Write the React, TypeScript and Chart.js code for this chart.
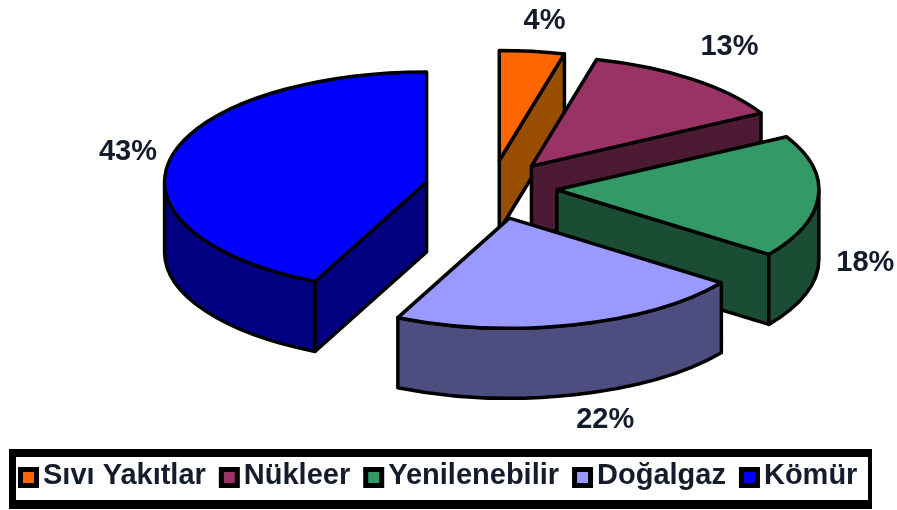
import React, { useEffect, useRef } from "react";
import { Chart, registerables } from "chart.js";

Chart.register(...registerables);

// Energy sources and their shares in percent
const sources = ["Sıvı Yakıtlar", "Nükleer", "Yenilenebilir", "Doğalgaz", "Kömür"];
const shares = [4, 13, 18, 22, 43];
const topColors = ["#FF6600", "#993366", "#339966", "#9999FF", "#0000FF"];
const wallColors = ["#994D00", "#4D1A33", "#1A4D33", "#4D4D80", "#000080"];

// Pie geometry: tilt of the disc, thickness of the disc, how far each slice is pulled out
const RADIUS = 262;
const SQUASH = 0.42;
const DEPTH = 70;
const pull = [66, 66, 66, 74, 66];

const INK = "#141c2c";
const labelFont = "bold 29px 'Liberation Sans', Arial, sans-serif";
const labelGap = 14;
const labelShift = [
  [8, -7],
  [11, -13],
  [4, -5],
  [20, 2],
  [-1, -1],
];

const slicePlacement = (arc: any, i: number) => {
  const mid = (arc.startAngle + arc.endAngle) / 2;
  return {
    mid,
    x: arc.x + Math.cos(mid) * pull[i],
    y: arc.y + Math.sin(mid) * pull[i] * SQUASH,
    rx: arc.outerRadius,
    ry: arc.outerRadius * SQUASH,
  };
};

const drawSlice = (ctx: CanvasRenderingContext2D, arc: any, i: number) => {
  const { x, y, rx, ry } = slicePlacement(arc, i);
  const a = arc.startAngle;
  const b = arc.endAngle;
  ctx.lineWidth = 3.5;
  ctx.lineJoin = "round";
  ctx.strokeStyle = "#000";
  ctx.fillStyle = wallColors[i];

  // Flat cut faces that turn towards the viewer
  const radialWall = (t: number) => {
    const px = x + rx * Math.cos(t);
    const py = y + ry * Math.sin(t);
    ctx.beginPath();
    ctx.moveTo(x, y);
    ctx.lineTo(px, py);
    ctx.lineTo(px, py + DEPTH);
    ctx.lineTo(x, y + DEPTH);
    ctx.closePath();
    ctx.fill();
    ctx.stroke();
  };
  if (Math.cos(a) < -1e-6) radialWall(a);
  if (Math.cos(b) > 1e-6) radialWall(b);

  // Curved rim, only on the near half of the disc
  const lo = Math.max(a, 0);
  const hi = Math.min(b, Math.PI);
  if (lo < hi) {
    ctx.beginPath();
    ctx.ellipse(x, y, rx, ry, 0, lo, hi);
    ctx.ellipse(x, y + DEPTH, rx, ry, 0, hi, lo, true);
    ctx.closePath();
    ctx.fill();
    ctx.stroke();
  }

  // Top face: the library's arc element under a squashing transform
  ctx.save();
  ctx.translate(x, y);
  ctx.scale(1, SQUASH);
  ctx.translate(-arc.x, -arc.y);
  arc.draw(ctx);
  ctx.restore();

  ctx.beginPath();
  ctx.moveTo(x, y);
  ctx.ellipse(x, y, rx, ry, 0, a, b);
  ctx.closePath();
  ctx.stroke();
};

const tiltedPie = {
  id: "tiltedPie",
  beforeDatasetsDraw(chart: any) {
    const ctx: CanvasRenderingContext2D = chart.ctx;
    const arcs: any[] = chart.getDatasetMeta(0).data;
    const order = arcs
      .map((arc, i) => ({ arc, i, depth: slicePlacement(arc, i).y }))
      .sort((p, q) => p.depth - q.depth);
    ctx.save();
    order.forEach(({ arc, i }) => drawSlice(ctx, arc, i));
    ctx.restore();
    return false;
  },
  afterDraw(chart: any) {
    const ctx: CanvasRenderingContext2D = chart.ctx;
    const arcs: any[] = chart.getDatasetMeta(0).data;
    ctx.save();
    ctx.font = labelFont;
    ctx.fillStyle = INK;
    ctx.textAlign = "center";
    ctx.textBaseline = "middle";

    // Percent labels just outside each slice's rim
    arcs.forEach((arc, i) => {
      const { mid, x, y, rx, ry } = slicePlacement(arc, i);
      const text = `${shares[i]}%`;
      const w = ctx.measureText(text).width;
      const cx = Math.cos(mid);
      const sy = Math.sin(mid);
      const rimY = y + ry * sy + (sy > 0 ? DEPTH : 0);
      const lx = x + rx * cx + cx * (w / 2 + labelGap) + labelShift[i][0];
      const ly = rimY + sy * (10 + labelGap) + labelShift[i][1];
      ctx.fillText(text, lx, ly);
    });

    // Framed legend along the bottom edge
    ctx.fillStyle = "#000";
    ctx.fillRect(9, 449, 863, 60);
    ctx.fillStyle = "#fff";
    ctx.fillRect(16, 457, 852, 43);

    let cursor = 18;
    ctx.textAlign = "left";
    sources.forEach((name, i) => {
      ctx.fillStyle = "#000";
      ctx.fillRect(cursor, 467, 21, 21);
      ctx.fillStyle = topColors[i];
      ctx.fillRect(cursor + 5, 472, 11, 11);
      ctx.fillStyle = INK;
      ctx.fillText(name, cursor + 25, 476);
      cursor += 25 + ctx.measureText(name).width + 13;
    });
    ctx.restore();
  },
};

export default function App() {
  const canvasRef = useRef<HTMLCanvasElement | null>(null);

  useEffect(() => {
    document.body.style.margin = "0";
    document.body.style.background = "#fff";
    const chart = new Chart(canvasRef.current as HTMLCanvasElement, {
      type: "pie",
      data: {
        labels: sources,
        datasets: [{ data: shares, backgroundColor: topColors, borderWidth: 0 }],
      },
      options: {
        responsive: false,
        animation: false,
        radius: RADIUS,
        layout: { padding: { left: 85, bottom: 134 } },
        plugins: { legend: { display: false }, tooltip: { enabled: false } },
      },
      plugins: [tiltedPie],
    } as any);
    return () => chart.destroy();
  }, []);

  return <canvas ref={canvasRef} width={897} height={510} style={{ display: "block" }} />;
}
